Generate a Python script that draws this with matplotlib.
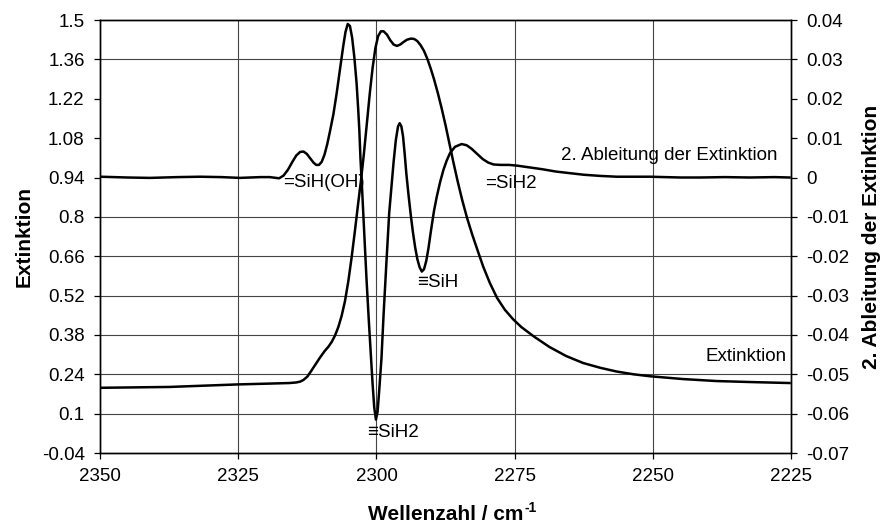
import matplotlib
matplotlib.use('Agg')
import matplotlib.pyplot as plt

plt.rcParams['font.family'] = ['Liberation Sans', 'DejaVu Sans']

# Extinktion (linke Achse)
wz_ext = [2350.0, 2337.5, 2325.1, 2319.3, 2315.7, 2314.5, 2313.8, 2313.2, 2312.5,
          2311.8, 2311.0, 2310.2, 2309.4, 2308.7, 2308.1, 2307.5, 2306.9, 2306.3,
          2305.7, 2305.1, 2304.5, 2303.9, 2303.3, 2302.8, 2302.3, 2301.8, 2301.2,
          2300.7, 2300.2, 2299.7, 2299.2, 2298.7, 2298.1, 2297.5, 2296.9, 2296.3,
          2295.7, 2295.1, 2294.5, 2293.8, 2293.2, 2292.6, 2292.0, 2291.4, 2290.8,
          2290.2, 2289.6, 2288.9, 2288.2, 2287.5, 2286.8, 2286.1, 2285.3, 2284.5,
          2283.6, 2282.7, 2281.7, 2280.7, 2279.5, 2278.2, 2276.8, 2275.3, 2273.8,
          2271.5, 2268.7, 2265.7, 2262.6, 2259.5, 2256.6, 2253.5, 2250.5, 2244.5,
          2238.5, 2231.5, 2225.3]
extinktion = [0.192, 0.195, 0.204, 0.207, 0.209, 0.211, 0.214, 0.220, 0.232,
              0.252, 0.276, 0.300, 0.322, 0.338, 0.355, 0.378, 0.408, 0.448,
              0.500, 0.570, 0.655, 0.750, 0.850, 0.930, 1.020, 1.120, 1.241,
              1.330, 1.400, 1.443, 1.460, 1.460, 1.448, 1.428, 1.413, 1.408,
              1.413, 1.422, 1.430, 1.434, 1.433, 1.425, 1.410, 1.390, 1.362,
              1.328, 1.290, 1.240, 1.185, 1.125, 1.060, 0.995, 0.925, 0.860,
              0.795, 0.738, 0.680, 0.623, 0.565, 0.512, 0.470, 0.436, 0.408,
              0.374, 0.337, 0.305, 0.280, 0.263, 0.250, 0.240, 0.233, 0.223,
              0.216, 0.212, 0.209]

# 2. Ableitung der Extinktion (rechte Achse)
wz_abl = [2350.0, 2345.0, 2341.0, 2336.0, 2331.9, 2328.0, 2324.7, 2321.0, 2319.3,
          2317.6, 2316.8, 2316.0, 2315.2, 2314.5, 2313.8, 2313.2, 2312.6, 2312.0,
          2311.4, 2310.9, 2310.4, 2309.9, 2309.4, 2308.9, 2308.4, 2307.8, 2307.2,
          2306.6, 2306.0, 2305.6, 2305.2, 2304.8, 2304.4, 2304.0, 2303.6, 2303.3,
          2303.1, 2302.9, 2302.6, 2302.2, 2301.8, 2301.4, 2301.0, 2300.7, 2300.4,
          2300.1, 2299.8, 2299.5, 2299.1, 2298.7, 2298.2, 2297.7, 2297.3, 2296.9,
          2296.5, 2296.1, 2295.8, 2295.5, 2295.2, 2294.9, 2294.6, 2294.2, 2293.8,
          2293.4, 2293.0, 2292.6, 2292.2, 2291.8, 2291.4, 2291.0, 2290.6, 2290.2,
          2289.6, 2289.1, 2288.5, 2287.9, 2287.3, 2286.7, 2285.8, 2284.6, 2283.7,
          2282.8, 2281.8, 2280.8, 2279.8, 2278.8, 2277.5, 2276.0, 2274.5, 2272.5,
          2270.0, 2267.5, 2265.0, 2262.5, 2259.5, 2256.5, 2250.6, 2245.0, 2241.5,
          2237.0, 2232.5, 2228.0, 2225.3]
ableitung = [0.0002, 0.0, -0.0001, 0.0001, 0.0002, 0.0001, -0.0001, 0.0001, 0.0001,
             -0.0002, 0.0005, 0.0020, 0.0040, 0.0056, 0.0065, 0.0066, 0.0060, 0.0049,
             0.0038, 0.0032, 0.0032, 0.0040, 0.0058, 0.0085, 0.0118, 0.0160, 0.0214,
             0.0275, 0.0335, 0.0370, 0.0390, 0.0385, 0.0355, 0.0305, 0.0240, 0.0172,
             0.0120, 0.0050, -0.0030, -0.0145, -0.0259, -0.0360, -0.0455, -0.0525, -0.0585,
             -0.0615, -0.0595, -0.0540, -0.0460, -0.0344, -0.0215, -0.0090, -0.0025, 0.0040,
             0.0095, 0.0130, 0.0138, 0.0130, 0.0105, 0.0060, 0.0010, -0.0045, -0.0095,
             -0.0140, -0.0178, -0.0208, -0.0228, -0.0239, -0.0233, -0.0212, -0.0180, -0.0140,
             -0.0085, -0.0049, -0.0012, 0.0019, 0.0043, 0.0062, 0.0078, 0.0085, 0.0082,
             0.0073, 0.0060, 0.0047, 0.0038, 0.0033, 0.0032, 0.0032, 0.0030, 0.0026,
             0.0021, 0.0015, 0.0011, 0.0007, 0.0004, 0.0002, 0.0002, 0.0, 0.0,
             0.0001, 0.0, 0.0001, 0.0]

x_ticks = [2350, 2325, 2300, 2275, 2250, 2225]
y1_ticks = [-0.04, 0.1, 0.24, 0.38, 0.52, 0.66, 0.8, 0.94, 1.08, 1.22, 1.36, 1.5]
y1_labels = ['-0.04', '0.1', '0.24', '0.38', '0.52', '0.66', '0.8', '0.94', '1.08', '1.22', '1.36', '1.5']
y2_ticks = [-0.07, -0.06, -0.05, -0.04, -0.03, -0.02, -0.01, 0, 0.01, 0.02, 0.03, 0.04]
y2_labels = ['-0.07', '-0.06', '-0.05', '-0.04', '-0.03', '-0.02', '-0.01', '0', '0.01', '0.02', '0.03', '0.04']

fs = 13.5
fs_lab = 15

fig = plt.figure(figsize=(8.85, 5.28), dpi=100)
ax1 = fig.add_axes([0.113, 0.142, 0.781, 0.820])
ax2 = ax1.twinx()

ax1.plot(wz_ext, extinktion, color='black', lw=1.8, solid_joinstyle='round')
ax2.plot(wz_abl, ableitung, color='black', lw=1.8, solid_joinstyle='round')

ax1.set_xlim(2350, 2225)
ax1.set_ylim(-0.04, 1.5)
ax2.set_ylim(-0.07, 0.04)

ax1.set_xticks(x_ticks)
ax1.set_yticks(y1_ticks)
ax1.set_yticklabels(y1_labels)
ax2.set_yticks(y2_ticks)
ax2.set_yticklabels(y2_labels)

for a in (ax1, ax2):
    a.tick_params(labelsize=fs, length=4, width=0.9, pad=7, color='black')
    for s in a.spines.values():
        s.set_color('black')
        s.set_linewidth(1.0)

ax1.grid(True, color='#444444', lw=0.8)
# im Original fehlen einige horizontale Gitterlinien
for val, gl in zip(y1_ticks, ax1.yaxis.get_gridlines()):
    if val in (1.5, 1.22, 1.08, 0.94, -0.04):
        gl.set_visible(False)
for val, gl in zip(x_ticks, ax1.xaxis.get_gridlines()):
    if val in (2350, 2225):
        gl.set_visible(False)

ax1.set_xlabel('Wellenzahl / cm', fontsize=fs_lab, fontweight='bold', labelpad=14)
ax1.annotate('-1', xy=(1, 1), xycoords=ax1.xaxis.label, xytext=(1, -2),
             textcoords='offset points', ha='left', va='center',
             fontsize=10, fontweight='bold')
ax1.set_ylabel('Extinktion', fontsize=fs_lab, fontweight='bold', labelpad=6)
ax2.set_ylabel('2. Ableitung der Extinktion', fontsize=fs_lab, fontweight='bold', labelpad=9)

# Bandenbeschriftung
ax1.text(2316.9, 0.924, '=SiH(OH)', fontsize=fs, va='center', ha='left')
ax1.text(2280.4, 0.92, '=SiH2', fontsize=fs, va='center', ha='left')
ax1.text(2292.6, 0.566, '≡SiH', fontsize=fs, va='center', ha='left')
ax1.text(2301.7, 0.033, '≡SiH2', fontsize=fs, va='center', ha='left')
ax1.text(2227.4, 1.02, '2. Ableitung der Extinktion', fontsize=fs, va='center', ha='right')
ax1.text(2225.8, 0.304, 'Extinktion', fontsize=fs, va='center', ha='right')

plt.savefig('out.png', dpi=100)
